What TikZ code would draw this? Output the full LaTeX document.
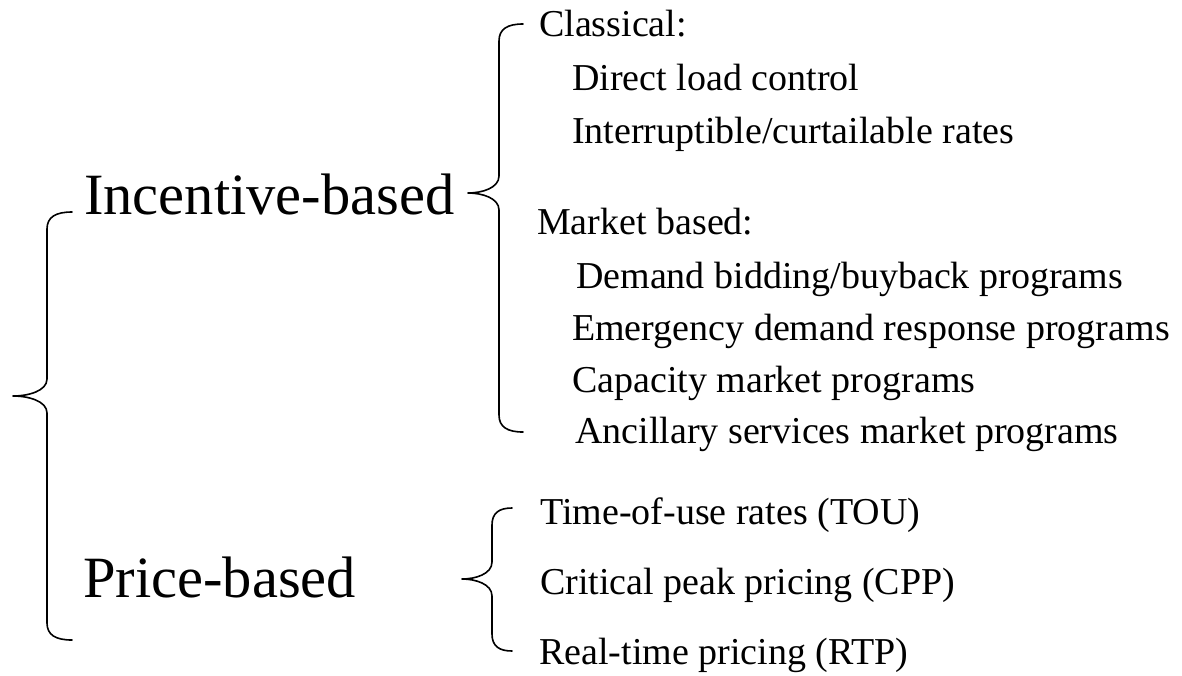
\documentclass[tikz,border=0pt]{standalone}
\usepackage{fontspec}
\setmainfont{Liberation Serif}
\tikzset{
  bracestroke/.style={line width=1.6pt, line cap=round, line join=round},
  bigtxt/.style={anchor=base west, inner sep=0pt, font=\fontsize{58.5}{60}\selectfont},
  smalltxt/.style={anchor=base west, inner sep=0pt, font=\fontsize{38}{40}\selectfont},
}
% curly brace opening to the right:
% #1 end x, #2 stem x, #3 tip x, #4 top y, #5 tip y, #6 bottom y
\newcommand\drawbrace[6]{%
  \draw[bracestroke]
    (#1,#4) .. controls ({#2+0.35*(#1-#2)},#4) and (#2,{#4+5}) .. (#2,{#4+17})
    -- (#2,{#5-17})
    .. controls (#2,{#5-5}) and ({#3+0.45*(#2-#3)},#5) .. (#3,#5)
    .. controls ({#3+0.45*(#2-#3)},#5) and (#2,{#5+5}) .. (#2,{#5+17})
    -- (#2,{#6-17})
    .. controls (#2,{#6-5}) and ({#2+0.35*(#1-#2)},#6) .. (#1,#6);%
}
\begin{document}
\begin{tikzpicture}[x=1pt, y=-1pt]
\useasboundingbox (0,0) rectangle (1182,675);

% outer brace joining the two families
\drawbrace{72}{47}{13}{212}{396}{640}
\node[bigtxt] (inc) at (84,214) {Incentive-based};
\node[bigtxt] (price) at (83,597) {Price-based};

% incentive-based programs
\drawbrace{523}{499}{468}{24}{193}{432}
\node[smalltxt] (classical) at (539,36) {Classical:};
\node[smalltxt] (dlc) at (572,90) {Direct load control};
\node[smalltxt] (icr) at (572,143) {Interruptible/curtailable rates};
\node[smalltxt] (market) at (537,234) {Market based:};
\node[smalltxt] (dbb) at (576,288) {Demand bidding/buyback programs};
\node[smalltxt] (edr) at (572,340) {Emergency demand response programs};
\node[smalltxt] (cap) at (572,392) {Capacity market programs};
\node[smalltxt] (anc) at (575,443) {Ancillary services market programs};

% price-based programs
\drawbrace{512}{492}{462}{508}{579}{651}
\node[smalltxt] (tou) at (540,524) {Time-of-use rates (TOU)};
\node[smalltxt] (cpp) at (540,594) {Critical peak pricing (CPP)};
\node[smalltxt] (rtp) at (539,664) {Real-time pricing (RTP)};
\end{tikzpicture}
\end{document}
